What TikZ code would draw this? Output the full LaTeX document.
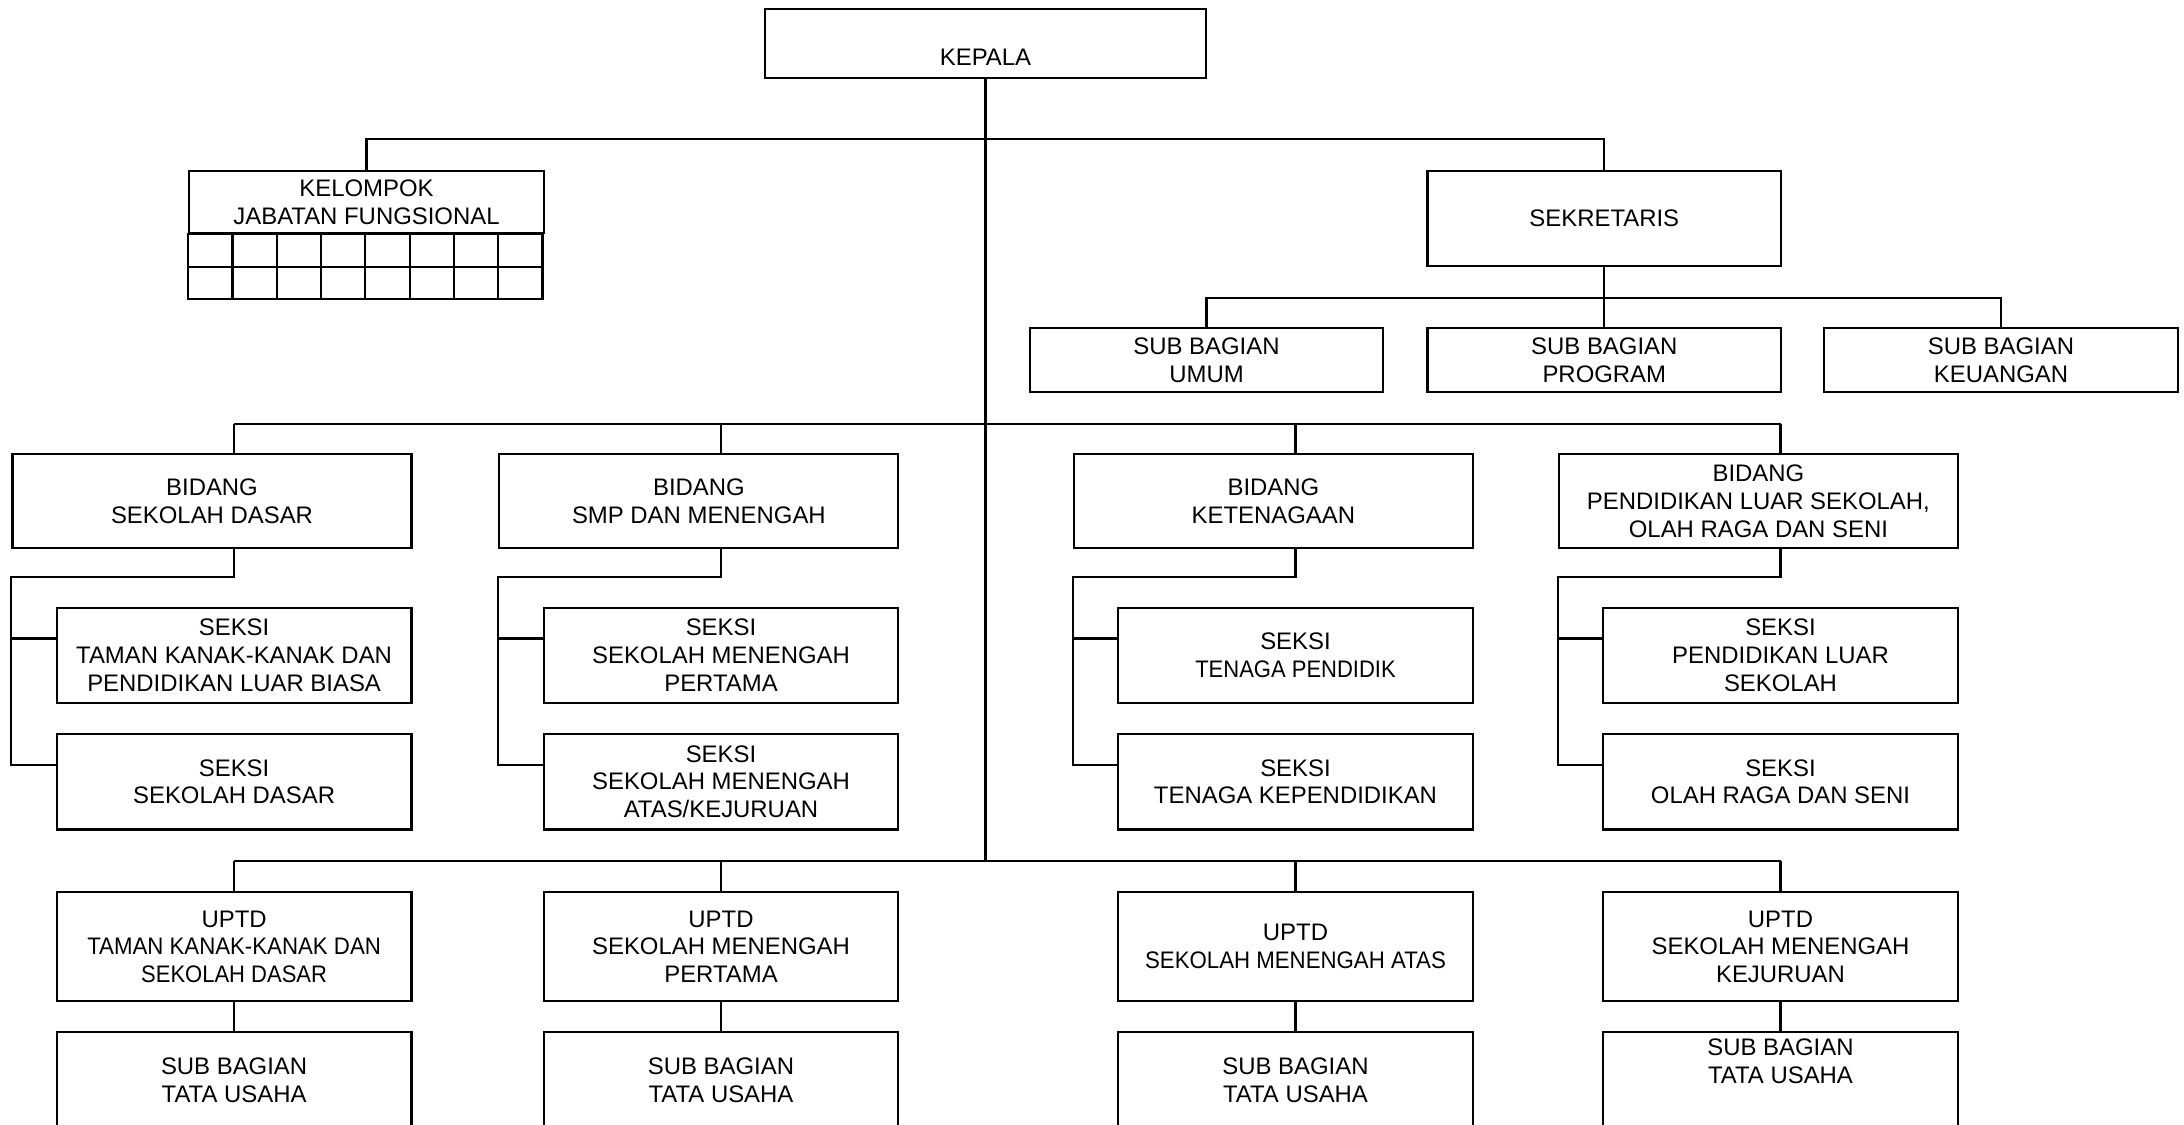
\documentclass[tikz,border=0pt]{standalone}
\usepackage{fontspec}
\setmainfont{Liberation Sans}
\usetikzlibrary{calc}
\newcommand{\orgfont}{\fontsize{6.8}{7.9}\selectfont}
\newcommand{\sempit}[2]{\scalebox{#1}[1]{#2}}
\tikzset{
  box/.style={draw, line width=0.6pt, inner sep=0pt, align=center, font=\orgfont},
  kepalabox/.style={box, minimum width=4.41cm, minimum height=0.69cm, text height=0.44cm, text depth=0pt},
  jfbox/.style={box, minimum width=3.543cm, minimum height=0.623cm},
  sekbox/.style={box, minimum width=3.535cm, minimum height=0.947cm},
  subbox/.style={box, minimum width=3.535cm, minimum height=0.634cm},
  bidangbox/.style={box, minimum width=3.988cm, minimum height=0.934cm},
  seksibox/.style={box, minimum width=3.546cm, minimum height=0.956cm},
  uptdbox/.style={box, minimum width=3.546cm, minimum height=1.087cm},
  tubox/.style={box, minimum width=3.546cm, minimum height=0.963cm}
}
\begin{document}
\begin{tikzpicture}[x=0.01cm, y=-0.01cm, line width=0.6pt]
    % pimpinan dan sekretariat
    \node[kepalabox] (kepala) at (985.5,43.5) {KEPALA};
    \node[jfbox] (jf) at (366.5,202.2) {KELOMPOK\\JABATAN FUNGSIONAL};
    \node[sekbox] (sek) at (1604.3,218.3) {SEKRETARIS};
    \node[subbox] (umum) at (1206.5,360) {SUB BAGIAN\\UMUM};
    \node[subbox] (prog) at (1604.3,360) {SUB BAGIAN\\PROGRAM};
    \node[subbox] (keu) at (2001,360) {SUB BAGIAN\\KEUANGAN};
    % kotak jabatan fungsional
    \draw (jf.south west) rectangle ++(354.3,64.4);
    \draw ($(jf.south west)+(0,32.2)$) -- ++(354.3,0);
    \foreach \c in {1,...,7}
        \draw ($(jf.south west)+(\c*44.29,0)$) -- ++(0,64.4);
    % bidang
    \node[bidangbox] (bsd) at (212,501) {BIDANG\\SEKOLAH DASAR};
    \node[bidangbox] (bsmp) at (698.9,501) {BIDANG\\SMP DAN MENENGAH};
    \node[bidangbox] (bket) at (1273.4,501) {BIDANG\\KETENAGAAN};
    \node[bidangbox] (bpls) at (1758.4,501) {BIDANG\\PENDIDIKAN LUAR SEKOLAH,\\OLAH RAGA DAN SENI};
    % seksi
    \node[seksibox] (tk) at (234.1,655.4) {SEKSI\\TAMAN KANAK-KANAK DAN\\PENDIDIKAN LUAR BIASA};
    \node[seksibox] (sd) at (234.1,781.7) {SEKSI\\SEKOLAH DASAR};
    \node[seksibox] (smp) at (721,655.4) {SEKSI\\SEKOLAH MENENGAH\\PERTAMA};
    \node[seksibox] (sma) at (721,781.7) {SEKSI\\SEKOLAH MENENGAH\\ATAS/KEJURUAN};
    \node[seksibox] (tp) at (1295.5,655.4) {SEKSI\\\sempit{0.92}{TENAGA PENDIDIK}};
    \node[seksibox] (tkp) at (1295.5,781.7) {SEKSI\\TENAGA KEPENDIDIKAN};
    \node[seksibox] (pls) at (1780.5,655.4) {SEKSI\\PENDIDIKAN LUAR\\SEKOLAH};
    \node[seksibox] (ors) at (1780.5,781.7) {SEKSI\\OLAH RAGA DAN SENI};
    % uptd
    \node[uptdbox] (utk) at (234.1,946.7) {UPTD\\\sempit{0.93}{TAMAN KANAK-KANAK DAN}\\\sempit{0.92}{SEKOLAH DASAR}};
    \node[uptdbox] (usmp) at (721,946.7) {UPTD\\SEKOLAH MENENGAH\\PERTAMA};
    \node[uptdbox] (usma) at (1295.5,946.7) {UPTD\\\sempit{0.93}{SEKOLAH MENENGAH ATAS}};
    \node[uptdbox] (usmk) at (1780.5,946.7) {UPTD\\SEKOLAH MENENGAH\\KEJURUAN};
    \node[tubox] (tu1) at (234.1,1080) {SUB BAGIAN\\TATA USAHA};
    \node[tubox] (tu2) at (721,1080) {SUB BAGIAN\\TATA USAHA};
    \node[tubox] (tu3) at (1295.5,1080) {SUB BAGIAN\\TATA USAHA};
    \node[tubox] (tu4) at (1780.5,1080) {SUB BAGIAN\\TATA USAHA\\[0.1cm]~};
    % garis
    \coordinate (bus1) at (985.5,139.3);
    \coordinate (bus2) at (985.5,424);
    \coordinate (bus3) at (985.5,860.7);
    \coordinate (bus4) at (1604.3,297.7);
    \draw (kepala.south) -- (bus3);
    \draw (jf.north) |- (bus1) -| (sek.north);
    \draw (sek.south) -- (prog.north);
    \draw (umum.north) |- (bus4) -| (keu.north);
    \draw (tk.north |- bus2) -- (pls.north |- bus2);
    \foreach \b/\s in {bsd/tk, bsmp/smp, bket/tp, bpls/pls}
        \draw (\s.north |- bus2) -- (\s.north |- \b.north);
    \foreach \b/\s/\t in {bsd/tk/sd, bsmp/smp/sma, bket/tp/tkp, bpls/pls/ors} {
        \draw (\s.north |- \b.south) -- ++(0,28.6) -| ($(\b.west |- \t.north)+(0,32)$) -- ($(\t.north west)+(0,32)$);
        \draw ($(\b.west |- \s.north)+(0,32)$) -- ($(\s.north west)+(0,32)$);
    }
    \draw (utk.north |- bus3) -- (usmk.north |- bus3);
    \foreach \u in {utk, usmp, usma, usmk}
        \draw (\u.north |- bus3) -- (\u.north);
    \foreach \from/\to in {utk/tu1, usmp/tu2, usma/tu3, usmk/tu4}
        \draw (\from.south) -- (\to.north);
    \pgfresetboundingbox
    \useasboundingbox (0,0) rectangle (2184,1125);
\end{tikzpicture}
\end{document}
